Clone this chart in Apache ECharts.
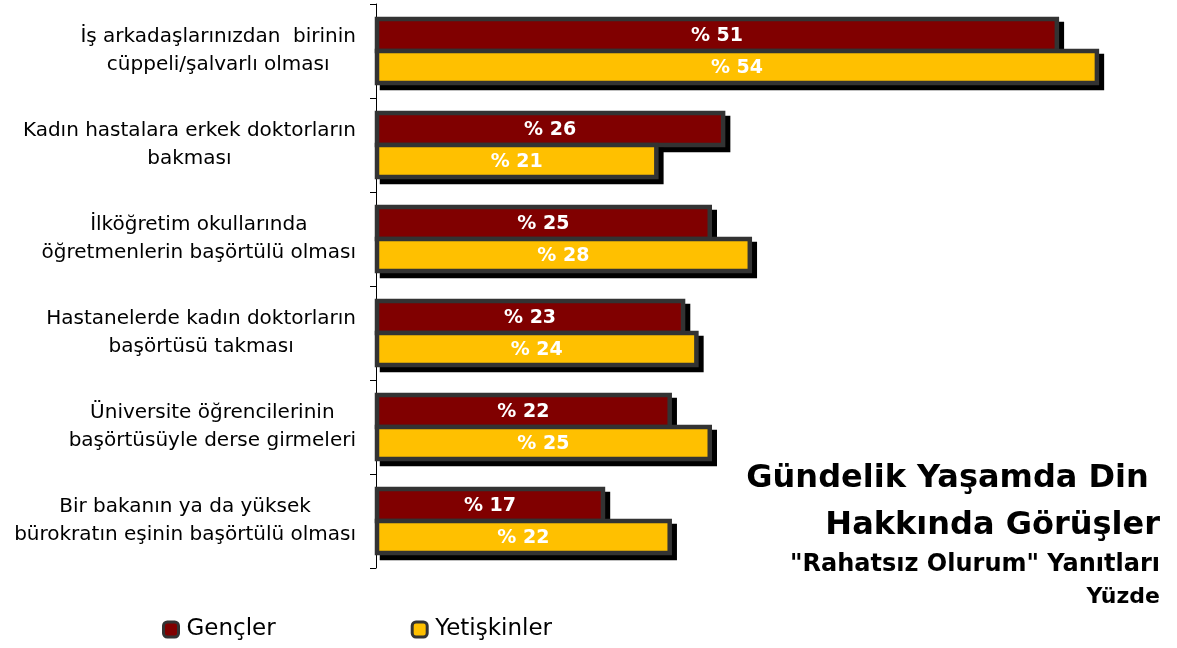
<!DOCTYPE html>
<html><head><meta charset="utf-8">
<script src="https://cdn.jsdelivr.net/npm/echarts@6/dist/echarts.min.js"></script>
<style>html,body{margin:0;padding:0;background:#fff}#c{width:1177px;height:648px}</style>
</head><body><div id="c"></div>
<script>
const categories = [
  "İş arkadaşlarınızdan  birinin\ncüppeli/şalvarlı olması",
  "Kadın hastalara erkek doktorların\nbakması",
  "İlköğretim okullarında\nöğretmenlerin başörtülü olması",
  "Hastanelerde kadın doktorların\nbaşörtüsü takması",
  "Üniversite öğrencilerinin\nbaşörtüsüyle derse girmeleri",
  "Bir bakanın ya da yüksek\nbürokratın eşinin başörtülü olması"
];
const seriesNames = ["Gençler", "Yetişkinler"];
const gencler = [51, 26, 25, 23, 22, 17];
const yetiskinler = [54, 21, 28, 24, 25, 22];
const titleLines = ["Gündelik Yaşamda Din ", "Hakkında Görüşler", "\"Rahatsız Olurum\" Yanıtları", "Yüzde"];

const FONT = "'DejaVu Sans', Verdana, sans-serif";
const colors = ['#800000', '#FFC000'];
const chart = echarts.init(document.getElementById('c'));

function makeRender(seriesIdx) {
  return function (params, api) {
    const val = api.value(0);
    const cat = api.value(1);
    const p0 = api.coord([0, cat]);
    const p1 = api.coord([val, cat]);
    const cy = p0[1];
    const h = 32;
    const y = seriesIdx === 0 ? cy - h : cy;
    const x = p0[0] + 1;
    const w = p1[0] - x;
    const lw = 4.5;
    return {
      type: 'group',
      children: [
        { type: 'rect', shape: { x: x + 5, y: y + 5, width: w, height: h },
          style: { fill: '#000', stroke: '#000', lineWidth: lw } },
        { type: 'rect', shape: { x: x, y: y, width: w, height: h },
          style: { fill: colors[seriesIdx], stroke: '#333333', lineWidth: lw } },
        { type: 'text', style: { text: '% ' + val, x: x + w / 2, y: y + h / 2 + 1,
          align: 'center', verticalAlign: 'middle', fill: '#fff',
          font: 'bold 19px ' + FONT } }
      ]
    };
  };
}

chart.setOption({
  animation: false,
  grid: { left: 376, right: 0, top: 4, bottom: 80 },
  xAxis: { type: 'value', min: 0, max: 60, show: false },
  yAxis: {
    type: 'category', data: categories, inverse: true,
    axisLine: { show: true, lineStyle: { color: '#000', width: 1 } },
    axisTick: { show: true, length: 6, lineStyle: { color: '#000' } },
    axisLabel: {
      margin: 20, align: 'right', color: '#000', fontSize: 20, fontFamily: FONT,
      formatter: v => v.split('\n').map(s => '{c|' + s + '}').join('\n'),
      rich: { c: { align: 'center', fontSize: 20, fontFamily: FONT, color: '#000', lineHeight: 28 } }
    }
  },
  legend: {
    left: 157, top: 613, itemWidth: 15, itemHeight: 15, itemGap: 135, icon: 'roundRect',
    textStyle: { fontSize: 23, fontFamily: FONT, color: '#000', padding: [0, 0, 0, 3] },
    itemStyle: { borderColor: '#333', borderWidth: 3 },
    data: seriesNames
  },
  series: [
    { name: seriesNames[0], type: 'custom', renderItem: makeRender(0),
      itemStyle: { color: colors[0] }, encode: { x: 0, y: 1 },
      data: gencler.map((v, i) => [v, i]) },
    { name: seriesNames[1], type: 'custom', renderItem: makeRender(1),
      itemStyle: { color: colors[1] }, encode: { x: 0, y: 1 },
      data: yetiskinler.map((v, i) => [v, i]) }
  ],
  graphic: [
    { type: 'text', style: { text: titleLines[0], x: 1160, y: 463, textAlign: 'right', font: 'bold 32px ' + FONT, fill: '#000' } },
    { type: 'text', style: { text: titleLines[1], x: 1160, y: 510, textAlign: 'right', font: 'bold 32px ' + FONT, fill: '#000' } },
    { type: 'text', style: { text: titleLines[2], x: 1160, y: 553, textAlign: 'right', font: 'bold 24px ' + FONT, fill: '#000' } },
    { type: 'text', style: { text: titleLines[3], x: 1160, y: 586, textAlign: 'right', font: 'bold 22px ' + FONT, fill: '#000' } }
  ]
});
</script></body></html>
